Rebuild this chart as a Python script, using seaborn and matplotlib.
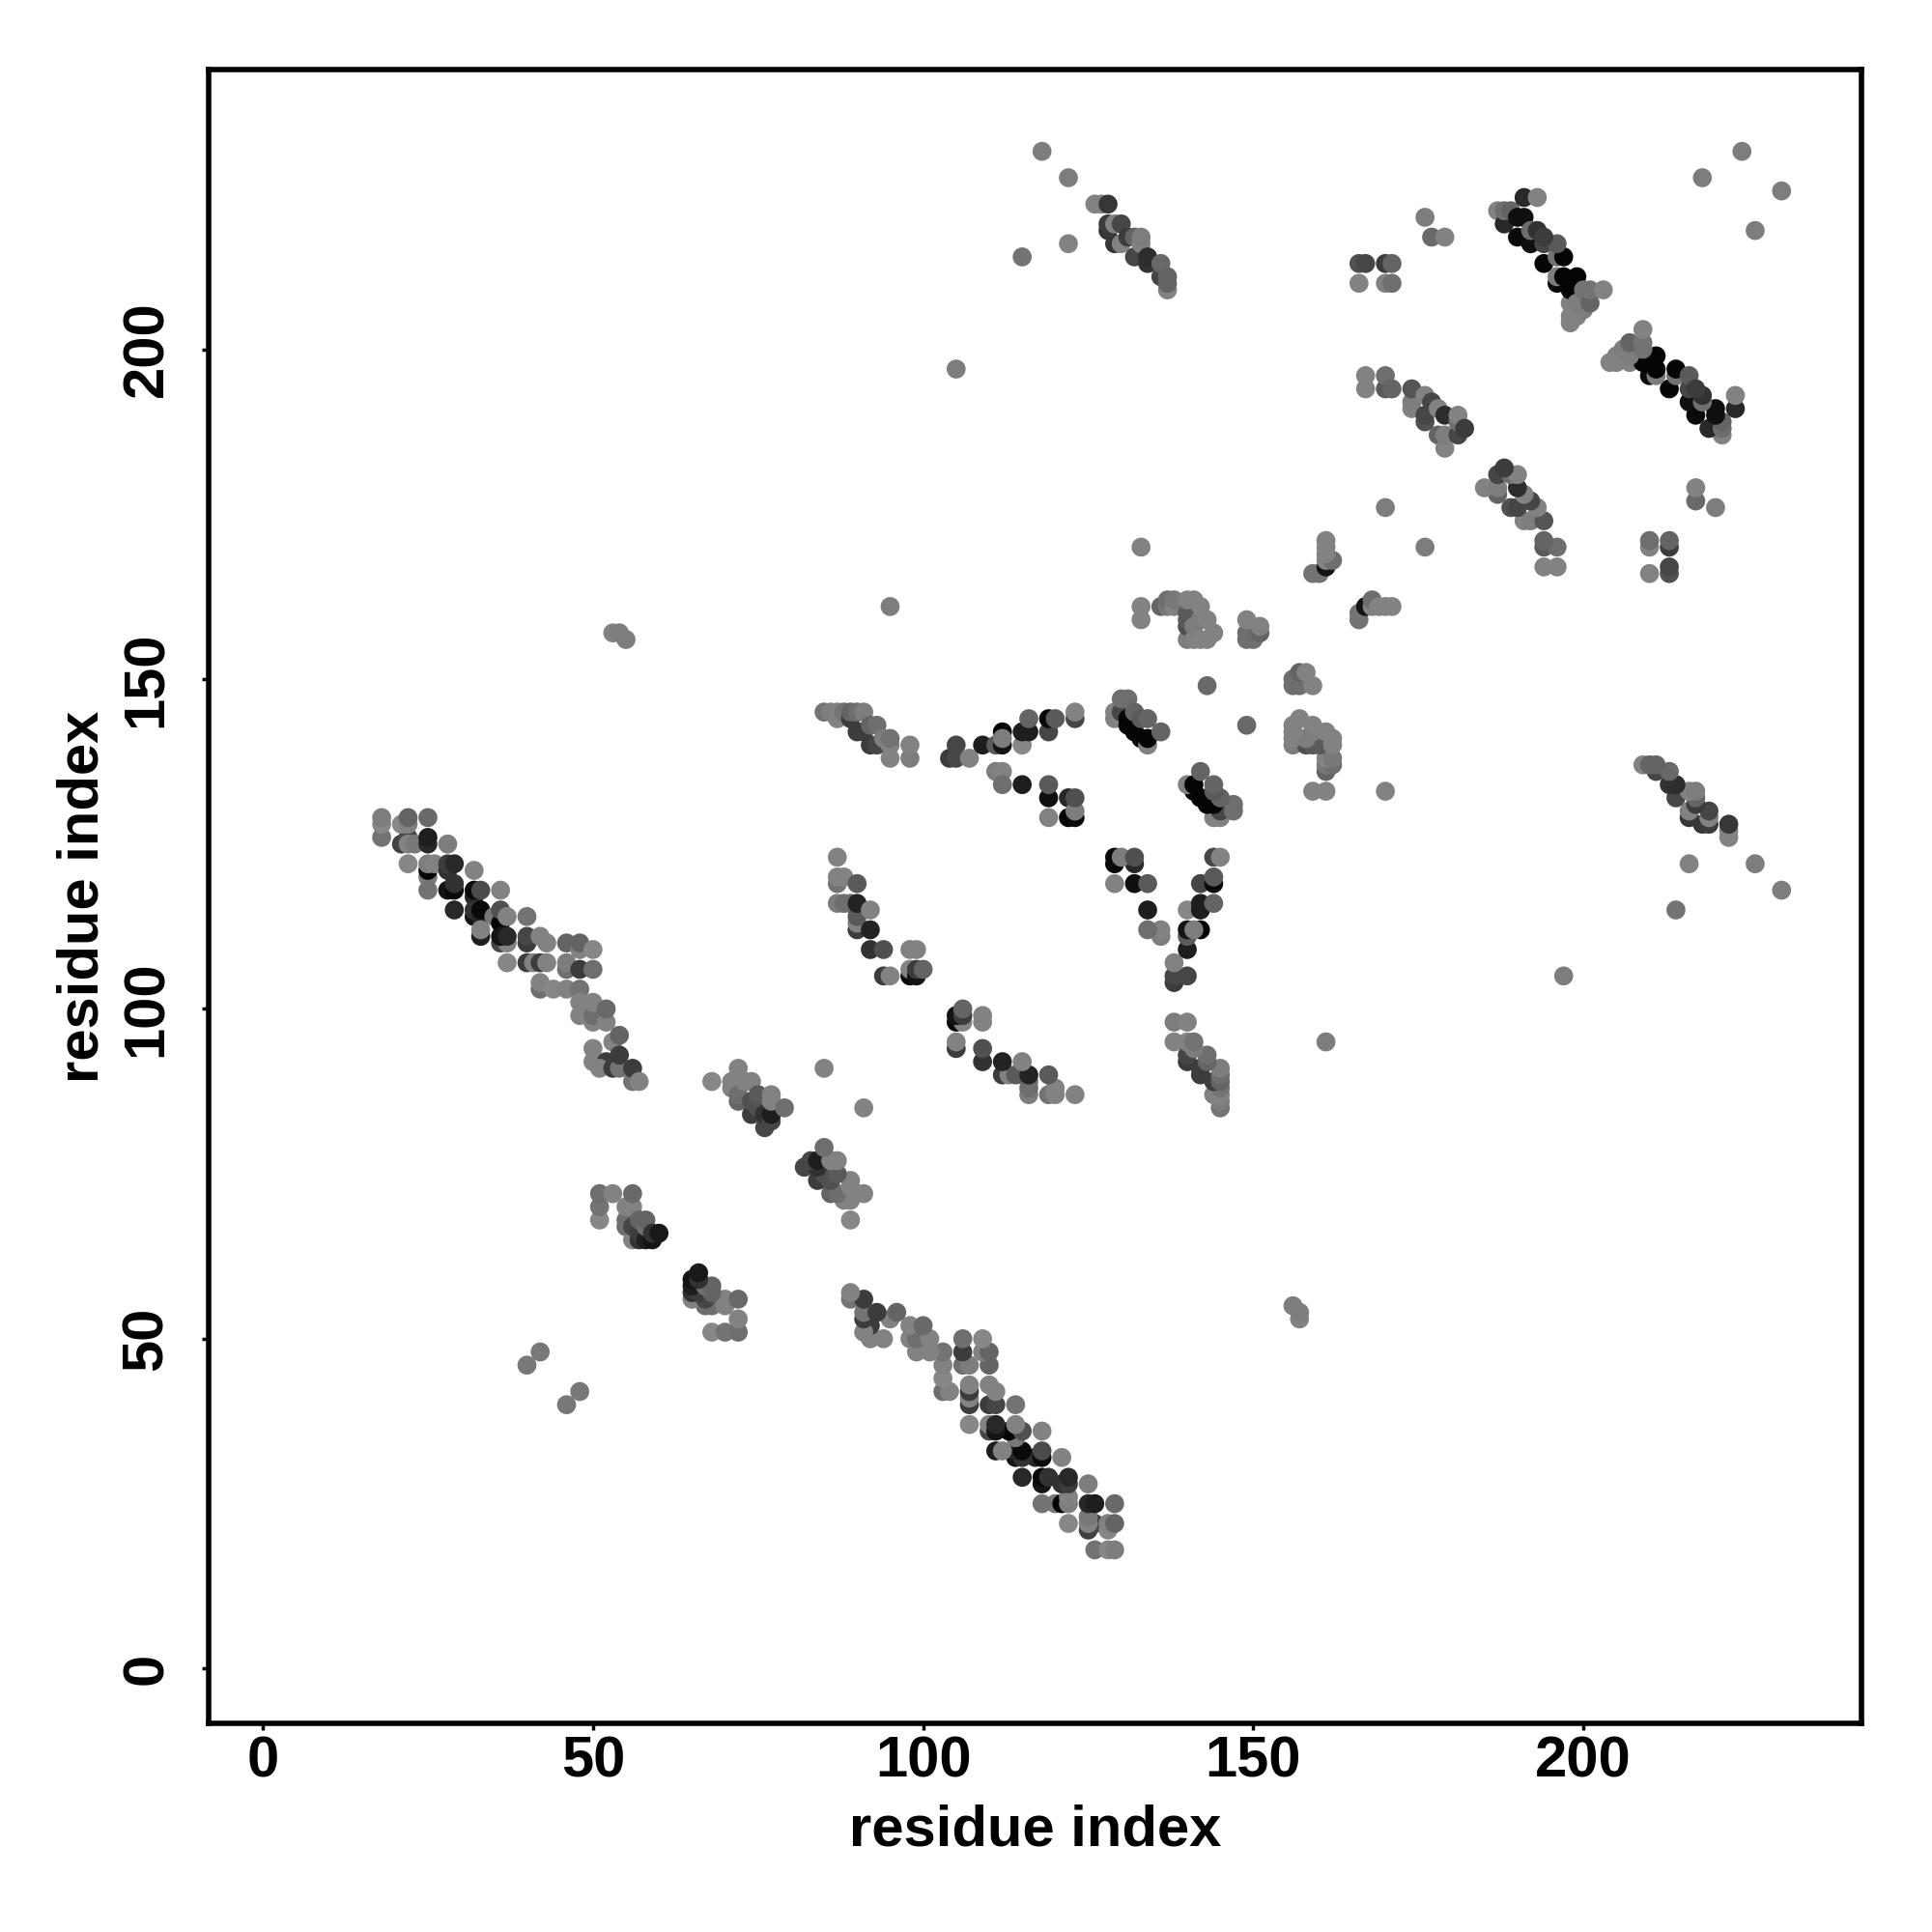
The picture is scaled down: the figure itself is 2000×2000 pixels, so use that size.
import matplotlib
matplotlib.use("Agg")
import matplotlib.pyplot as plt
import pandas as pd
import seaborn as sns

# contacts as (i, j, grey level), i < j; the map is symmetric
helix_a = [
    (18, 126, 115), (18, 128, 135), (18, 129, 125), (21, 125, 65), (22, 126, 70), (21, 128, 135),
    (22, 128, 130), (22, 129, 100), (22, 125, 130), (23, 125, 120), (25, 129, 105), (25, 125, 40),
    (25, 126, 30), (28, 125, 125), (22, 122, 135), (25, 120, 120), (25, 121, 5), (25, 122, 125),
    (26, 122, 130), (28, 121, 50), (28, 122, 60), (29, 122, 40), (32, 121, 130), (25, 118, 115),
    (28, 118, 20), (29, 118, 10), (29, 119, 50), (29, 115, 40), (32, 117, 40), (32, 118, 10),
    (33, 118, 75), (36, 118, 130), (32, 114, 20), (32, 115, 50), (33, 114, 40), (33, 115, 10),
    (35, 114, 120), (36, 113, 5), (36, 115, 80), (37, 114, 130), (40, 114, 115), (33, 111, 30),
    (33, 112, 130), (36, 110, 70), (37, 110, 130), (36, 111, 20), (37, 111, 40), (40, 110, 60),
    (40, 111, 70), (42, 111, 130), (43, 110, 130), (46, 110, 100), (48, 109, 130), (48, 110, 100),
    (50, 109, 135), (37, 107, 135), (40, 107, 60), (41, 107, 130), (42, 107, 60), (43, 107, 130),
    (46, 106, 110), (46, 107, 125), (48, 106, 60), (50, 106, 110), (42, 103, 110), (42, 104, 130),
    (44, 103, 135), (46, 103, 130), (48, 103, 115), (48, 101, 130), (48, 99, 130), (50, 98, 130),
    (50, 99, 110), (50, 101, 130), (52, 98, 130), (52, 100, 105), (53, 95, 130), (54, 96, 100),
    (50, 92, 130), (50, 94, 130), (52, 92, 60), (51, 91, 130), (53, 91, 60), (54, 91, 115),
    (54, 93, 60), (56, 89, 115), (56, 91, 60), (57, 89, 130),
]
strand_b = [
    (68, 89, 135), (71, 88, 130), (71, 89, 130), (72, 91, 130), (72, 86, 100), (72, 87, 110),
    (73, 89, 130), (74, 89, 130), (74, 84, 60), (74, 86, 80), (75, 85, 80), (75, 87, 90),
    (76, 82, 70), (76, 84, 50), (77, 83, 70), (77, 84, 30), (77, 86, 130), (77, 87, 130),
    (79, 85, 110),
]
strand_c = [
    (51, 68, 135), (51, 70, 115), (51, 72, 110), (53, 72, 130), (55, 67, 110), (55, 68, 110),
    (55, 70, 130), (56, 65, 130), (56, 67, 70), (56, 70, 130), (56, 72, 105), (57, 65, 50),
    (57, 66, 60), (57, 68, 100), (58, 65, 30), (58, 67, 110), (58, 68, 100), (59, 65, 20),
    (59, 66, 50), (60, 66, 25),
]
singles = [
    (40, 46, 120), (42, 48, 120), (53, 157, 130), (54, 157, 125), (55, 156, 125),
    (95, 161, 125), (105, 197, 125), (85, 91, 130), (143, 149, 105), (115, 214, 115),
    (118, 230, 125), (122, 226, 125), (122, 216, 130), (133, 170, 130), (170, 176, 125),
    (176, 220, 125), (177, 217, 105), (179, 217, 130), (218, 226, 125), (224, 230, 125),
]
block_e = [
    (85, 145, 115), (86, 145, 125), (87, 144, 130), (87, 145, 130), (88, 145, 115), (89, 144, 60),
    (89, 145, 100), (90, 142, 60), (90, 145, 110), (91, 142, 60), (91, 145, 125), (92, 140, 60),
    (92, 143, 100), (93, 140, 70), (93, 143, 110), (94, 141, 125), (95, 138, 130), (95, 140, 130),
    (95, 141, 115), (98, 138, 125), (98, 140, 130),
]
block_f = [
    (104, 138, 60), (105, 138, 70), (105, 140, 70), (107, 138, 130), (109, 140, 30), (111, 136, 125),
    (111, 140, 90), (112, 136, 130), (112, 134, 110), (112, 140, 20), (112, 142, 5), (112, 141, 125),
    (115, 134, 30), (115, 140, 135), (115, 142, 30), (116, 142, 30), (116, 144, 100), (119, 129, 130),
    (119, 132, 15), (119, 134, 90), (119, 142, 70), (119, 144, 10), (120, 144, 90), (122, 129, 5),
    (122, 132, 40), (123, 129, 10), (123, 130, 125), (123, 132, 80), (123, 144, 70), (123, 145, 130),
]
block_g = [
    (87, 116, 125), (87, 119, 115), (87, 120, 130), (87, 123, 130), (88, 116, 110), (88, 120, 130),
    (89, 116, 110), (90, 112, 60), (90, 113, 130), (90, 114, 90), (90, 116, 35), (90, 119, 90),
    (92, 109, 50), (92, 112, 35), (92, 115, 130), (94, 105, 60), (94, 109, 80), (95, 105, 130),
    (98, 105, 10), (98, 106, 130), (98, 109, 130), (99, 105, 20), (99, 106, 60), (99, 109, 130),
    (100, 106, 100),
]
block_i = [
    (129, 144, 130), (129, 145, 130), (130, 145, 70), (130, 147, 110), (131, 143, 5), (131, 144, 5),
    (131, 147, 110), (132, 142, 5), (132, 145, 100), (133, 141, 5), (133, 144, 90), (134, 140, 130),
    (134, 141, 5), (134, 144, 100), (136, 142, 100),
]
block_k = [
    (133, 159, 130), (133, 161, 130), (136, 161, 100), (137, 161, 120), (137, 162, 110), (138, 161, 130),
    (138, 162, 120), (140, 156, 125), (140, 158, 80), (140, 159, 90), (140, 160, 90), (140, 162, 130),
    (141, 156, 130), (141, 158, 125), (141, 162, 130), (142, 156, 130), (142, 159, 125), (142, 161, 130),
    (143, 156, 130), (143, 159, 130), (144, 157, 130),
    (149, 156, 110), (149, 157, 110), (149, 159, 130), (150, 156, 110), (151, 157, 100), (151, 158, 130),
    (159, 166, 115), (160, 166, 115), (161, 167, 20), (161, 168, 130), (162, 168, 110), (161, 169, 130),
    (161, 170, 130), (161, 171, 130),
]
block_p = [
    (126, 222, 130), (127, 222, 130), (128, 218, 55), (128, 219, 60), (128, 222, 55), (129, 216, 55),
    (129, 219, 130), (130, 216, 130), (130, 219, 70), (131, 217, 60), (132, 214, 70), (132, 217, 100),
    (133, 216, 130), (133, 217, 125), (134, 213, 50), (134, 214, 45), (136, 211, 70), (136, 213, 105),
    (137, 209, 130), (137, 210, 100), (137, 211, 100),
]
block_l = [
    (187, 221, 130), (188, 219, 40), (188, 221, 110), (189, 221, 100), (190, 217, 10), (190, 220, 15),
    (191, 220, 15), (191, 223, 40), (192, 216, 15), (192, 218, 110), (193, 218, 50), (193, 223, 130),
    (194, 213, 5), (194, 216, 70), (196, 210, 10), (196, 211, 125), (196, 214, 115), (197, 211, 5),
    (197, 214, 5), (198, 204, 130), (198, 205, 130), (198, 207, 130), (198, 209, 5), (199, 205, 130),
    (199, 207, 125), (199, 211, 5), (200, 206, 125), (200, 209, 115), (201, 207, 100), (201, 209, 115),
    (203, 209, 130), (196, 216, 90), (194, 217, 60),
]
block_n = [
    (167, 194, 130), (167, 196, 130), (170, 194, 90), (170, 196, 110), (171, 194, 100), (174, 191, 130),
    (174, 192, 125), (174, 194, 85), (176, 189, 80), (176, 190, 70), (176, 193, 130), (177, 192, 70),
    (178, 187, 100), (178, 191, 130), (179, 185, 130), (179, 187, 125), (179, 190, 45), (181, 187, 70),
    (181, 189, 110), (181, 190, 130), (182, 188, 60),
    (166, 210, 130), (166, 213, 80), (167, 213, 70), (170, 210, 130), (170, 213, 60), (171, 210, 110),
    (171, 213, 100),
]

tick_values = [0, 50, 100, 150, 200]
axis_name = "residue index"

contacts = (helix_a + strand_b + strand_c + singles + block_e + block_f + block_g
            + block_i + block_k + block_p + block_l + block_n)
df = pd.DataFrame(contacts, columns=["i", "j", "grey"])
both = pd.concat([df.rename(columns={"i": "x", "j": "y"}),
                  df.rename(columns={"j": "x", "i": "y"})], ignore_index=True)

sns.set_style("white")
plt.rcParams["font.family"] = ["Liberation Sans", "DejaVu Sans"]
plt.rcParams["font.weight"] = "bold"

fig = plt.figure(figsize=(20, 20), dpi=100)
ax = fig.add_axes([0.108, 0.108, 0.8555, 0.856])

palette = {g: str(g / 255) for g in both["grey"].unique()}
sns.scatterplot(data=both, x="x", y="y", hue="grey", palette=palette, s=200,
                linewidth=0, legend=False, ax=ax, zorder=3)

ax.set_xlim(-8.2, 242.1)
ax.set_ylim(-8.3, 242.4)
ax.set_xticks(tick_values)
ax.set_yticks(tick_values)
ax.tick_params(axis="both", length=5, width=2.5, color="black", bottom=True, left=True,
               labelsize=43, labelcolor="black")
ax.tick_params(axis="x", pad=4)
ax.tick_params(axis="y", pad=21)
for t in ax.get_yticklabels():
    t.set_rotation(90)
    t.set_va("center")
ax.set_xlabel(axis_name, fontsize=43, fontweight="bold", color="black")
ax.set_ylabel(axis_name, fontsize=43, fontweight="bold", color="black")
ax.xaxis.set_label_coords(0.5, -0.049)
ax.yaxis.set_label_coords(-0.060, 0.5)
for s in ax.spines.values():
    s.set_visible(True)
    s.set_linewidth(4.0)
    s.set_color("black")

fig.savefig("out.png", dpi=100)
plt.close(fig)
